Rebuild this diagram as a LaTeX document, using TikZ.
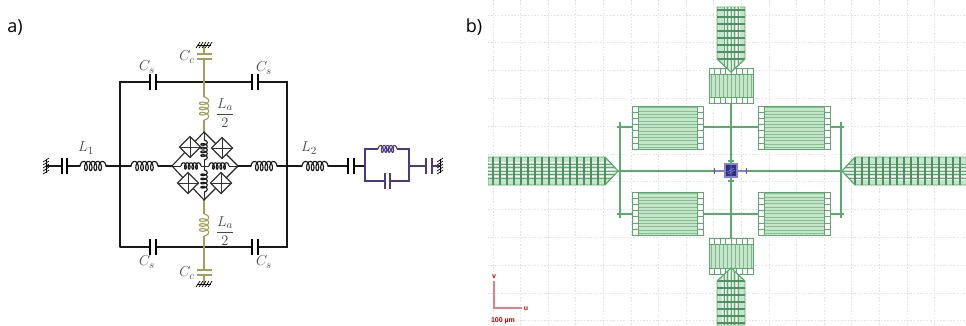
\documentclass[tikz,border=0pt]{standalone}
\usepackage{fontspec}
\usepackage{amsmath}
\newfontfamily\panelfont{Open Sans}
\newfontfamily\scalefont{Liberation Sans}
\definecolor{olv}{HTML}{A79E58}
\definecolor{prp}{HTML}{4D3A85}
\definecolor{grn}{HTML}{5BAA6E}
\definecolor{pale}{HTML}{C6E3CB}
\definecolor{gridc}{HTML}{E2E2E2}
\definecolor{navy}{HTML}{2E2C85}
\definecolor{blu}{HTML}{8583CC}
\definecolor{redc}{HTML}{EE7C86}
\tikzset{
  x=1pt,y=-1pt,
  wire/.style={line width=1.3pt,line cap=round,black!90},
  plate/.style={line width=1.3pt},
  lab/.style={inner sep=0pt,font=\fontsize{15}{15}\selectfont,black!72},
  panel/.style={inner sep=0pt,font=\panelfont\fontsize{18}{18}\selectfont},
  gl/.style={grn,line width=0.8pt},
  gridl/.style={gridc,line width=0.9pt,dash pattern=on 1.5pt off 1.8pt},
  hatchg/.style={line width=1pt}
}
% coil: angle, x, y, length, amplitude, half-turn count
\newcommand{\coil}[7][black!90]{\begin{scope}[shift={(#3,#4)},rotate=#2]
  \pgfmathsetmacro{\cT}{#7*3.14159}\pgfmathsetmacro{\cD}{#6*0.52}\pgfmathsetmacro{\cC}{(#5-2*\cD)/\cT}
  \draw[#1,line width=1.15pt,line join=round] plot[domain=0:#7*180,samples=120,variable=\t] ({\cC*\t*3.14159/180-\cD*cos(\t)+\cD},{-#6*sin(\t)});
  \end{scope}}
% ground hatching
\newcommand{\gndV}[2]{\draw[hatchg] (#1,#2-7)--(#1,#2+7);
  \foreach \k in {-6,-3,...,6}{\draw[line width=0.7pt] (#1-3,#2+\k+2)--(#1+3,#2+\k-2);}}
\newcommand{\gndH}[2]{\draw[hatchg] (#1-7,#2)--(#1+7,#2);
  \foreach \k in {-6,-3,...,6}{\draw[line width=0.7pt] (#1+\k-2,#2+3)--(#1+\k+2,#2-3);}}
\newcommand{\sq}[2]{\fill[white] (#1-10.5,#2)--(#1,#2-10.5)--(#1+10.5,#2)--(#1,#2+10.5)--cycle;
  \draw[line width=1.1pt,black!80,line join=miter] (#1-10.5,#2)--(#1,#2-10.5)--(#1+10.5,#2)--(#1,#2+10.5)--cycle;
  \draw[line width=0.8pt,black!80] (#1-10.5,#2)--(#1+10.5,#2) (#1,#2-10.5)--(#1,#2+10.5);}
% feed pad, pointing at the centre
\newcommand{\padat}[3]{\begin{scope}[shift={(731,171)},rotate=#1]
  \path[fill=pale,draw=grn,line width=0.7pt] (#2,0)--(#2+13,-14)--(#3,-14)--(#3,14)--(#2+13,14)--cycle;
  \begin{scope}
  \clip (#2,0)--(#2+13,-14)--(#3,-14)--(#3,14)--(#2+13,14)--cycle;
  \foreach \v in {-7,-3.5,...,7.5}{\draw[white,line width=0.6pt] (#2,\v+1.75)--(#3,\v+1.75);\draw[grn,line width=0.8pt] (#2,\v)--(#3,\v);}
  \pgfmathsetmacro{\st}{#2+13}\pgfmathsetmacro{\nx}{#2+20}
  \foreach \u in {\st,\nx,...,#3}{\draw[grn!85!black,line width=1.2pt] (\u,-14)--(\u,14);}
  \end{scope}
  \draw[grn,line width=1.1pt] (#2+13,-14)--(#2,0)--(#2+13,14);
  \end{scope}}
% horizontal-finger capacitor
\newcommand{\idcH}[4]{\fill[pale] (#1,#2) rectangle (#3,#4);
  \foreach \v in {1.7,5,...,42}{\draw[grn!75,line width=0.6pt] (#1+5,#2+\v)--(#3-5,#2+\v);}
  \fill[white] (#1,#2) rectangle (#1+6,#4) (#3-6,#2) rectangle (#3,#4);
  \draw[gl] (#1,#2) rectangle (#3,#4);
  \draw[gl] (#1+6,#2)--(#1+6,#4) (#3-6,#2)--(#3-6,#4);
  \foreach \v in {6.2,12.4,...,40}{\draw[grn,line width=0.7pt] (#1,#2+\v)--(#1+6,#2+\v) (#3-6,#2+\v)--(#3,#2+\v);}}
% vertical-finger capacitor
\newcommand{\idcV}[4]{\fill[pale] (#1,#2) rectangle (#3,#4);
  \foreach \v in {2,6,...,44}{\draw[grn!80,line width=0.7pt] (#1+\v,#2+5)--(#1+\v,#4-5);}
  \fill[white] (#1,#2) rectangle (#3,#2+6) (#1,#4-6) rectangle (#3,#4);
  \draw[gl] (#1,#2) rectangle (#3,#4);
  \draw[gl] (#1,#2+6)--(#3,#2+6) (#1,#4-6)--(#3,#4-6);
  \foreach \v in {5.5,11,...,42}{\draw[grn,line width=0.7pt] (#1+\v,#2)--(#1+\v,#2+6) (#1+\v,#4-6)--(#1+\v,#4);}}
\begin{document}
\begin{tikzpicture}
\useasboundingbox (0,0) rectangle (966,325);
\fill[white] (0,0) rectangle (966,325);
\node[panel] (pa) at (15,27) {a)};
\node[panel] (pb) at (474,27) {b)};
% ---------- circuit coordinates
\coordinate (gl) at (47,166);
\coordinate (c1a) at (62,166);\coordinate (c1b) at (67,166);
\coordinate (l1a) at (80,166);\coordinate (l1b) at (106,166);
\coordinate (nl) at (120,166);
\coordinate (l3a) at (131,166);\coordinate (l3b) at (158,166);
\coordinate (dl) at (172,166);\coordinate (dt) at (204,132);
\coordinate (dr) at (238,166);\coordinate (db) at (204,200);
\coordinate (dc) at (204,166);
\coordinate (l4a) at (251,166);\coordinate (l4b) at (277,166);
\coordinate (nr) at (287,166);
\coordinate (l2a) at (302,166);\coordinate (l2b) at (328,166);
\coordinate (c2a) at (348,166);\coordinate (c2b) at (354,166);
\coordinate (pl) at (365,166);\coordinate (pr) at (409,166);
\coordinate (plt) at (365,149);\coordinate (prt) at (409,149);
\coordinate (plb) at (365,181);\coordinate (prb) at (409,181);
\coordinate (c3a) at (426,166);\coordinate (c3b) at (432,166);
\coordinate (gr) at (441,166);
\coordinate (tl) at (120,82);\coordinate (tr) at (287,82);
\coordinate (bl) at (120,247);\coordinate (br) at (287,247);
\coordinate (tm) at (204,82);\coordinate (bm) at (204,247);
% ---------- outer wires
\draw[wire] (gl)--(c1a) (c1b)--(l1a) (l1b)--(nl)--(l3a) (l3b)--(dl);
\draw[wire] (dr)--(l4a) (l4b)--(nr)--(l2a) (l2b)--(c2a) (c2b)--(pl);
\draw[wire] (bl)--(tl)--(150,82) (156,82)--(252,82) (258,82)--(tr)--(br)--(258,247) (252,247)--(156,247) (150,247)--(bl);
\foreach \x in {150,156,252,258}{\draw[plate] (\x,74)--(\x,90) (\x,239)--(\x,255);}
\draw[plate] (c1a)++(0,-8)--++(0,16) (c1b)++(0,-8)--++(0,16);
\draw[plate] (c2a)++(0,-8)--++(0,16) (c2b)++(0,-8)--++(0,16);
\coil{0}{80}{166}{26}{4.6}{9}
\coil{0}{131}{166}{27}{4.6}{9}
\coil{0}{251}{166}{26}{4.6}{9}
\coil{0}{302}{166}{26}{4.6}{9}
\gndV{46}{166}
% ---------- purple branch
\draw[prp,line width=1.2pt] (pl)--(plt)--(378,149) (397,149)--(prt)--(prb)--(390,181) (385,181)--(plb)--(pl);
\draw[prp,line width=1.2pt] (pr)--(c3a) (c3b)--(gr);
\coil[prp]{0}{378}{149}{19}{3.4}{9}
\draw[prp,plate] (385,173)--(385,189) (390,173)--(390,189);
\draw[prp,plate] (c3a)++(0,-8)--++(0,16) (c3b)++(0,-8)--++(0,16);
\gndV{440}{166}
% ---------- olive branch
\draw[olv,line width=1.3pt] (204,59)--(tm)--(204,97) (204,120)--(dt);
\draw[olv,line width=1.3pt] (db)--(204,214) (204,236)--(bm)--(204,270);
\draw[olv,line width=1.3pt] (204,45)--(204,54) (204,275)--(204,284);
\coil[olv]{-90}{204}{97}{23}{4.6}{7}
\coil[olv]{-90}{204}{214}{22}{4.6}{7}
\draw[olv,plate] (197,54)--(212,54) (197,59)--(212,59) (197,270)--(212,270) (197,275)--(212,275);
\gndH{204}{45}
\gndH{204}{284}
% ---------- bridge
\draw[line width=1.1pt,black!85] (dl)--(dt)--(dr)--(db)--cycle;
\sq{190}{147}\sq{222}{148}\sq{188}{183}\sq{221}{183}
\draw[line width=1pt,black!85] (dl)--(181,166) (201,166)--(209,166) (229,166)--(dr) (dt)--(204,140) (204,160)--(204,170) (204,192)--(db);
\coil{0}{181}{166}{20}{3.2}{9}
\coil{0}{209}{166}{20}{3.2}{9}
\coil{-90}{204}{140}{20}{3.2}{9}
\coil{-90}{204}{170}{22}{3.2}{9}
% ---------- labels
\node[lab] (cs1) at (147,67) {$C_s$};
\node[lab] (cs2) at (264,68) {$C_s$};
\node[lab] (cs3) at (147,262) {$C_s$};
\node[lab] (cs4) at (264,262) {$C_s$};
\node[lab] (cc1) at (187,57) {$C_c$};
\node[lab] (cc2) at (187,273) {$C_c$};
\node[lab] (ll1) at (86,148) {$L_1$};
\node[lab] (ll2) at (309,148) {$L_2$};
\node[lab] (la1) at (225,113) {$\dfrac{L_a}{2}$};
\node[lab] (la2) at (225,231) {$\dfrac{L_a}{2}$};
% ---------- layout panel: grid
\foreach \k in {0,...,16}{\draw[gridl] ({493+27.6*\k},0)--({493+27.6*\k},325);}
\foreach \k in {0,...,11}{\draw[gridl] (488,{15+27.8*\k})--(966,{15+27.8*\k});}
% ---------- wires
\draw[grn,line width=1.4pt] (618,171)--(842,171);
\draw[grn,line width=1.4pt] (731,100)--(731,240);
\draw[grn,line width=1.4pt] (620,122)--(620,218) (841,122)--(841,218);
\draw[grn,line width=1.4pt] (617,127)--(634,127) (700,127)--(760,127) (826,127)--(844,127);
\draw[grn,line width=1.4pt] (617,214)--(634,214) (700,214)--(760,214) (826,214)--(844,214);
% ---------- capacitors
\idcH{632}{106}{703}{149}
\idcH{758}{106}{830}{149}
\idcH{632}{192}{703}{235}
\idcH{758}{192}{830}{235}
\idcV{709}{68}{753}{103}
\idcV{709}{238}{753}{274}
% ---------- pads
\begin{scope}
\clip (488,0) rectangle (966,325);
\padat{0}{111}{240}
\padat{180}{113}{243}
\padat{90}{99}{164}
\padat{270}{97}{154}
\end{scope}
% ---------- centre device
\draw[blu,line width=1.2pt] (714,171)--(748,171);
\draw[navy!80,line width=1.3pt] (714.5,168)--(714.5,174) (746.5,168)--(746.5,174);
\draw[grn,line width=1.3pt] (728,161)--(734,161) (728,181)--(734,181);
\fill[blu] (724,163) rectangle (738,178);
\fill[navy] (726,165) rectangle (736,176);
\draw[blu,line width=0.6pt] (727,172)--(734,168) (728,174)--(735,170) (731,165)--(731,176);
% ---------- scale bar
\draw[redc,line width=1.1pt] (494,281)--(494,308)--(522,308);
\node[inner sep=0pt,text=red!80!black,font=\scalefont\bfseries\fontsize{7}{7}\selectfont] (sv) at (494,277) {v};
\node[inner sep=0pt,text=red!80!black,font=\scalefont\bfseries\fontsize{7}{7}\selectfont] (su) at (526,308.5) {u};
\node[inner sep=0pt,text=red!75!black,font=\scalefont\bfseries\fontsize{7}{7}\selectfont] (sb) at (503,320.5) {100 µm};
\end{tikzpicture}
\end{document}
